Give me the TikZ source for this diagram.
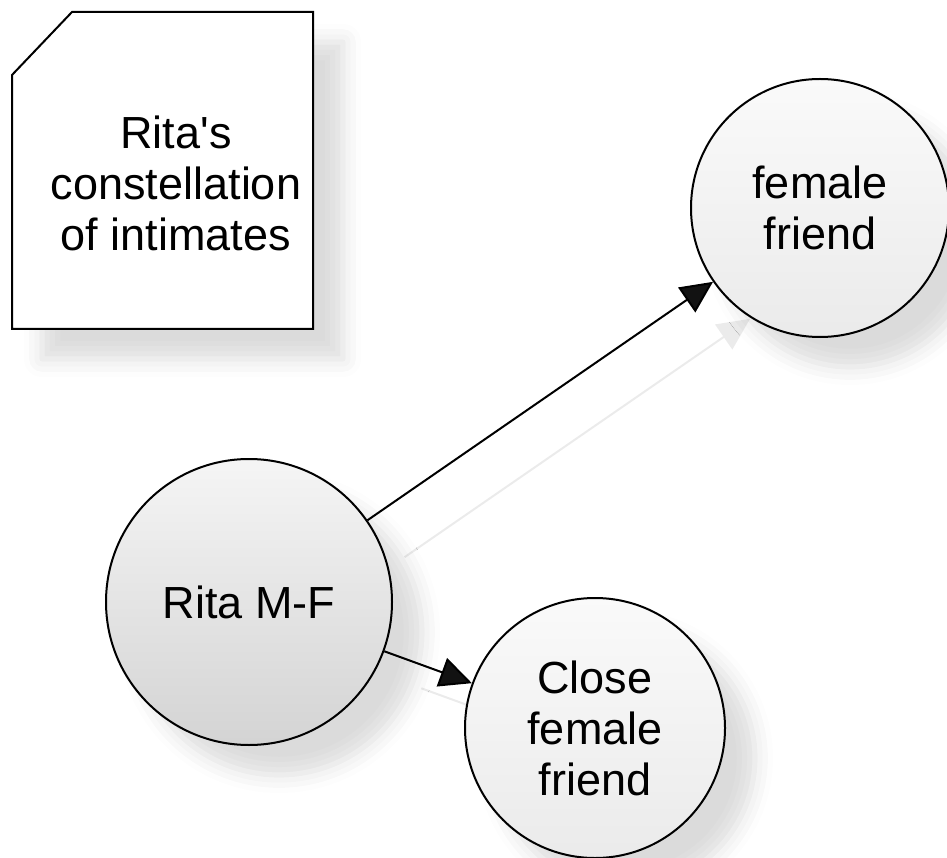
\documentclass[tikz,border=0pt]{standalone}
\usepackage{fontspec}
\setmainfont{Liberation Sans}
\usetikzlibrary{arrows.meta,shadows.blur}
\pgfdeclarelayer{background}
\pgfsetlayers{background,main}

\begin{document}
\begin{tikzpicture}[x=1pt,y=-1pt,>={Triangle[length=32pt,width=30pt]},
  every node/.style={font=\fontsize{45}{51}\selectfont,align=center},
  softshadow/.style={blur shadow={shadow xshift=30pt,shadow yshift=-30pt,
    shadow blur radius=18pt,shadow opacity=14}},
  person/.style={shape=circle,draw,line width=2pt,inner sep=0pt,softshadow},
  link/.style={->,line width=2pt}]
\useasboundingbox (0,0) rectangle (947,858);
% note in the corner
\draw [line width=2pt,fill=white,softshadow]
  (72,12) -- (313,12) -- (313,329) -- (12,329) -- (12,75) -- cycle;
\node (title) at (176,183) {Rita\textquotesingle s\\constellation\\of intimates};
% people
\node (rita)   at (249,602) [person,minimum size=286pt,top color=black!4,bottom color=black!17] {Rita M-F};
\node (female) at (820,208) [person,minimum size=258pt,top color=black!2,bottom color=black!8] {female\\friend};
\node (close)  at (595,728) [person,minimum size=260pt,top color=black!2,bottom color=black!8] {Close\\female\\friend};
\draw [link] (rita) -- (female);
\draw [link] (rita) -- (close);
\begin{pgfonlayer}{background}
\begin{scope}[transform canvas={shift={(37pt,-37pt)}},black!8]
\draw [link] (rita) -- (female);
\draw [link] (rita) -- (close);
\end{scope}
\end{pgfonlayer}
\end{tikzpicture}
\end{document}
